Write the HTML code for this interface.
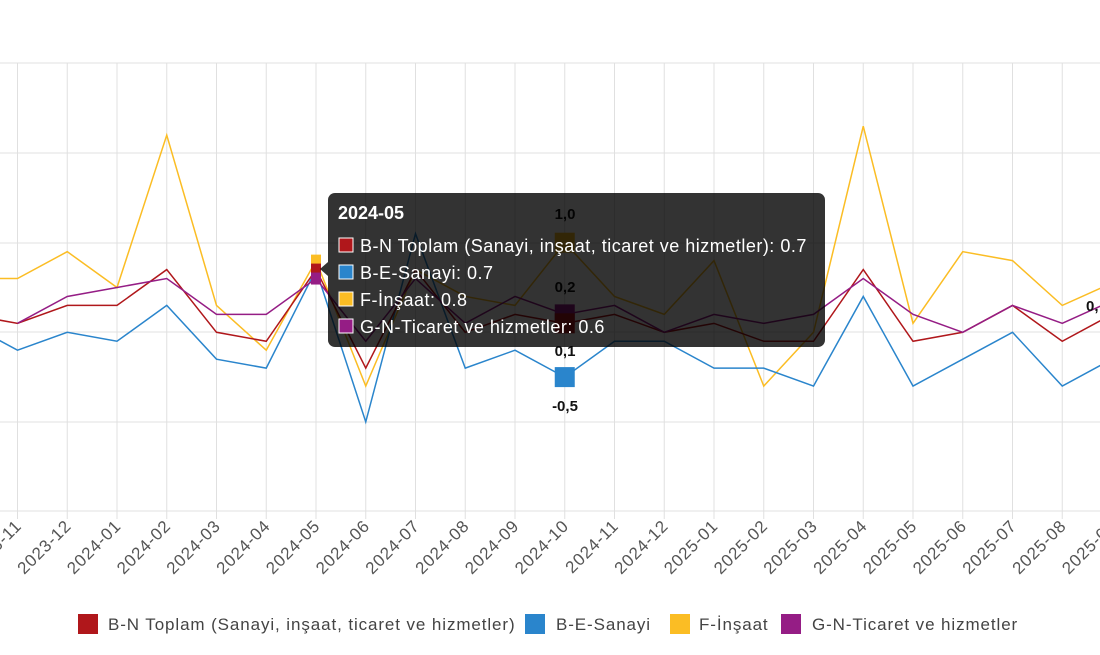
<!DOCTYPE html>
<html><head><meta charset="utf-8"><style>
body{margin:0;width:1100px;height:650px;background:#fff;overflow:hidden;font-family:"Liberation Sans","DejaVu Sans",sans-serif}
</style></head><body>
<svg id="s" width="1100" height="650" xmlns="http://www.w3.org/2000/svg" font-family="Liberation Sans, DejaVu Sans, sans-serif">
<g id="grid" stroke="#e0e0e0" stroke-width="1"></g>
<g id="lines" fill="none" stroke-width="1.5"></g>
<g id="marks"></g>
<g font-size="17" fill="#555" text-anchor="end" letter-spacing="0.8" id="xl">
<text transform="translate(22.5,527) rotate(-45)">2023-11</text>
<text transform="translate(72.3,527) rotate(-45)">2023-12</text>
<text transform="translate(122,527) rotate(-45)">2024-01</text>
<text transform="translate(171.8,527) rotate(-45)">2024-02</text>
<text transform="translate(221.5,527) rotate(-45)">2024-03</text>
<text transform="translate(271.3,527) rotate(-45)">2024-04</text>
<text transform="translate(321,527) rotate(-45)">2024-05</text>
<text transform="translate(370.8,527) rotate(-45)">2024-06</text>
<text transform="translate(420.5,527) rotate(-45)">2024-07</text>
<text transform="translate(470.3,527) rotate(-45)">2024-08</text>
<text transform="translate(520,527) rotate(-45)">2024-09</text>
<text transform="translate(569.8,527) rotate(-45)">2024-10</text>
<text transform="translate(619.5,527) rotate(-45)">2024-11</text>
<text transform="translate(669.3,527) rotate(-45)">2024-12</text>
<text transform="translate(719,527) rotate(-45)">2025-01</text>
<text transform="translate(768.8,527) rotate(-45)">2025-02</text>
<text transform="translate(818.5,527) rotate(-45)">2025-03</text>
<text transform="translate(868.3,527) rotate(-45)">2025-04</text>
<text transform="translate(918,527) rotate(-45)">2025-05</text>
<text transform="translate(967.8,527) rotate(-45)">2025-06</text>
<text transform="translate(1017.5,527) rotate(-45)">2025-07</text>
<text transform="translate(1067.3,527) rotate(-45)">2025-08</text>
<text transform="translate(1117,527) rotate(-45)">2025-09</text>
</g>
<g font-size="15" font-weight="bold" fill="#111" text-anchor="middle">
<text x="565" y="219">1,0</text>
<text x="565" y="292">0,2</text>
<text x="565" y="356">0,1</text>
<text x="565" y="411">-0,5</text>
<text x="1086" y="311" text-anchor="start">0,</text>
</g>
<g>
<rect x="328" y="193" width="497" height="154" rx="7" fill="rgba(0,0,0,0.8)"/>
<path d="M328 262 L320 269 L328 276 Z" fill="rgba(0,0,0,0.8)"/>
<text x="338" y="219" font-size="18" font-weight="bold" fill="#fff">2024-05</text>
<rect x="339" y="238" width="14" height="14" fill="#b0171b" stroke="#fff" stroke-width="1"/>
<rect x="339" y="265" width="14" height="14" fill="#2a85cc" stroke="#fff" stroke-width="1"/>
<rect x="339" y="292" width="14" height="14" fill="#fbbd24" stroke="#fff" stroke-width="1"/>
<rect x="339" y="319" width="14" height="14" fill="#951d85" stroke="#fff" stroke-width="1"/>
<g font-size="18" fill="#fff" letter-spacing="0.5">
<text x="360" y="252">B-N Toplam (Sanayi, inşaat, ticaret ve hizmetler): 0.7</text>
<text x="360" y="279">B-E-Sanayi: 0.7</text>
<text x="360" y="306">F-İnşaat: 0.8</text>
<text x="360" y="333">G-N-Ticaret ve hizmetler: 0.6</text>
</g>
</g>
<g font-size="17" fill="#444" letter-spacing="0.9">
<rect x="78" y="614" width="20" height="20" fill="#b0171b"/><text x="108" y="630">B-N Toplam (Sanayi, inşaat, ticaret ve hizmetler)</text>
<rect x="525" y="614" width="20" height="20" fill="#2a85cc"/><text x="556" y="630">B-E-Sanayi</text>
<rect x="670" y="614" width="20" height="20" fill="#fbbd24"/><text x="699" y="630">F-İnşaat</text>
<rect x="781" y="614" width="20" height="20" fill="#951d85"/><text x="812" y="630">G-N-Ticaret ve hizmetler</text>
</g>
</svg>
<script>
var ns="http://www.w3.org/2000/svg",s=document.getElementById('s');
function X(i){return 17.5+49.75*i}function Y(v){return 332.3-89.6*v}
function el(p,t,a){var e=document.createElementNS(ns,t);for(var k in a)e.setAttribute(k,a[k]);document.getElementById(p).appendChild(e);return e}
[63,153,243,332,422,511].forEach(function(y){el('grid','line',{x1:0,x2:1100,y1:y,y2:y})});
for(var i=0;i<23;i++)el('grid','line',{x1:X(i),x2:X(i),y1:63,y2:519});
var D={
"#fbbd24":[0.6,0.6,0.9,0.5,2.2,0.3,-0.2,0.8,-0.6,0.7,0.4,0.3,1.0,0.4,0.2,0.8,-0.6,0,2.3,0.1,0.9,0.8,0.3,0.55],
"#2a85cc":[0.1,-0.2,0,-0.1,0.3,-0.3,-0.4,0.7,-1.0,1.1,-0.4,-0.2,-0.5,-0.1,-0.1,-0.4,-0.4,-0.6,0.4,-0.6,-0.3,0,-0.6,-0.3],
"#b0171b":[0.2,0.1,0.3,0.3,0.7,0,-0.1,0.7,-0.4,0.7,0,0.2,0.1,0.2,0,0.1,-0.1,-0.1,0.7,-0.1,0,0.3,-0.1,0.2],
"#951d85":[null,0.1,0.4,0.5,0.6,0.2,0.2,0.6,-0.1,0.6,0.1,0.4,0.2,0.3,0,0.2,0.1,0.2,0.6,0.2,0,0.3,0.1,0.35]};
for(var c in D){var p=[];D[c].forEach(function(v,j){if(v!==null)p.push(X(j-1)+","+Y(v))});el('lines','polyline',{points:p.join(' '),stroke:c});}
[["#fbbd24",0.8],["#b0171b",0.7],["#951d85",0.6]].forEach(function(a){el('marks','rect',{x:X(6)-5,y:Y(a[1])-6,width:10,height:12,fill:a[0]})});
[["#fbbd24",1.0],["#951d85",0.2],["#b0171b",0.1],["#2a85cc",-0.5]].forEach(function(a){el('marks','rect',{x:X(11)-10,y:Y(a[1])-10,width:20,height:20,fill:a[0]})});
var gs=s.querySelectorAll('svg>g');s.appendChild(gs[4]);s.appendChild(gs[5]);
</script>
</body></html>
